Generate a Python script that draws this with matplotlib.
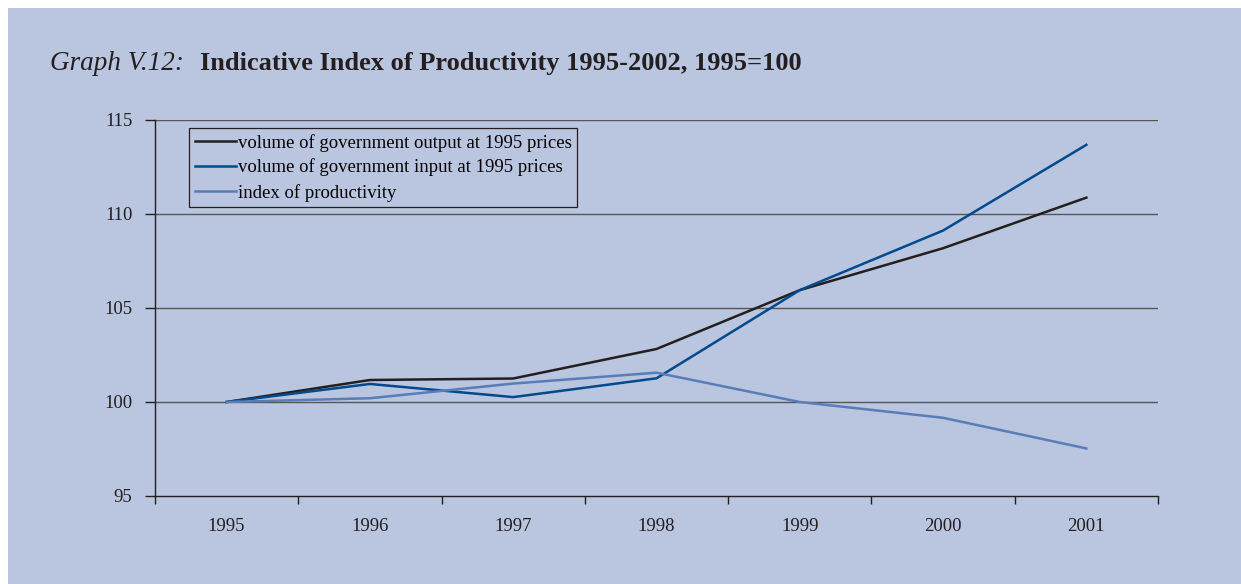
import matplotlib.pyplot as plt
from matplotlib.patches import Rectangle

years = ['1995', '1996', '1997', '1998', '1999', '2000', '2001']
output_vol = [100.0, 101.17, 101.25, 102.82, 105.95, 108.18, 110.87]
input_vol = [100.0, 100.96, 100.26, 101.26, 105.95, 109.12, 113.68]
productivity = [100.0, 100.2, 100.98, 101.56, 100.0, 99.16, 97.53]

names = ['volume of government output at 1995 prices',
         'volume of government input at 1995 prices',
         'index of productivity']
colors = ['#231f20', '#004a8c', '#5a7db8']

bg = '#bac5df'
plt.rcParams['font.family'] = ['Liberation Serif', 'DejaVu Serif']

fig = plt.figure(figsize=(12.41, 5.84), dpi=100, facecolor='white')
fig.patches.append(Rectangle((8 / 1241, 0), 1, 1 - 8 / 584, transform=fig.transFigure,
                             facecolor=bg, edgecolor='none', zorder=-1))

ax = fig.add_axes([155 / 1241, 1 - 496 / 584, (1158 - 155) / 1241, (496 - 120) / 584])
ax.set_facecolor(bg)

x = list(range(len(years)))
for ys, c, n in zip([output_vol, input_vol, productivity], colors, names):
    ax.plot(x, ys, color=c, lw=1.8, label=n, zorder=3)

ax.set_xlim(-0.5, len(years) - 0.5)
ax.set_ylim(95, 115)
ax.set_yticks([95, 100, 105, 110, 115])
for v in [100, 105, 110, 115]:
    ax.axhline(v, color='#555555', lw=1.0, zorder=1)

ax.set_xticks(x)
ax.set_xticklabels(years)
ax.set_xticks([i - 0.5 for i in range(len(years) + 1)], minor=True)
ax.tick_params(axis='x', which='major', length=0, pad=16, labelsize=13.5, colors='#231f20')
ax.tick_params(axis='x', which='minor', length=6, width=1, direction='out', color='#231f20')
ax.tick_params(axis='y', length=7.2, width=1, pad=9, labelsize=13.5, colors='#231f20')

for s in ['top', 'right']:
    ax.spines[s].set_visible(False)
for s in ['left', 'bottom']:
    ax.spines[s].set_color('#231f20')
    ax.spines[s].set_linewidth(1.0)

leg = ax.legend(loc='upper left', bbox_to_anchor=(34 / 1003, 1 - 8 / 376), frameon=True,
                fancybox=False, fontsize=13.5, handlelength=2.2, handletextpad=0.1,
                borderpad=0.3, labelspacing=0.38, borderaxespad=0)
leg.get_frame().set_facecolor(bg)
leg.get_frame().set_edgecolor('#231f20')
leg.get_frame().set_linewidth(0.9)
leg.get_frame().set_alpha(1)

fig.text(50 / 1241, 1 - 70 / 584, 'Graph V.12:', fontsize=19.5, style='italic',
         color='#231f20', va='baseline')
fig.text(200 / 1241, 1 - 70 / 584, 'Indicative Index of Productivity 1995-2002, 1995=100',
         fontsize=19, fontweight='bold', color='#231f20', va='baseline')

fig.savefig('out.png', dpi=100, facecolor='white')
